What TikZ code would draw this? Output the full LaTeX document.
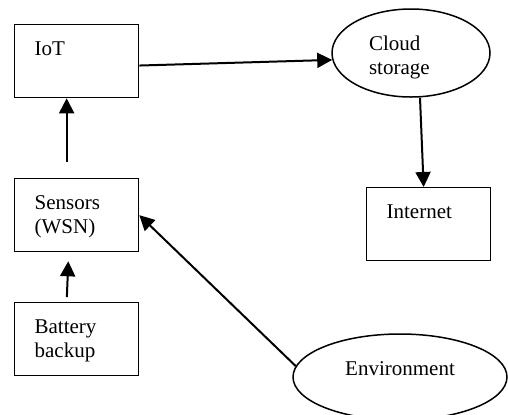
\documentclass[tikz,border=0pt]{standalone}
\usepackage{fontspec}
\setmainfont{Liberation Serif}
\usetikzlibrary{arrows.meta,shapes.geometric}

\begin{document}
\begin{tikzpicture}[x=0.5pt,y=-0.5pt,
  every node/.style={font=\fontsize{10.5}{12}\selectfont},
  blk/.style={draw=black,line width=0.65pt,anchor=north west,inner xsep=10pt,inner ysep=0pt,
    text width=42pt,align=left,text height=15.5pt,text depth=21pt},
  oval/.style={draw=black,ellipse,line width=0.75pt,inner sep=0pt},
  arr/.style={-{Triangle[length=7.5pt,width=7.5pt]},line width=1pt}]
\clip (0,0) rectangle (508,414);
% boxes
\node[blk] (iot) at (14,24) {IoT};
\node[blk] (sens) at (14,178) {Sensors\\(WSN)};
\node[blk] (batt) at (14,302) {Battery\\backup};
\node[blk] (net) at (366,187) {Internet};
% ovals
\node[oval,minimum width=79pt,minimum height=44pt,text width=42pt,align=left,
  text height=7pt,text depth=10pt] (cloud) at (411,53) {Cloud\\storage};
\node[oval,minimum width=107pt,minimum height=43pt,text height=7pt,text depth=9pt] (env) at (400,377) {Environment};
% arrows
\draw[arr] (iot.-4) -- (cloud.185);
\draw[arr,shorten <=8pt] ([xshift=-5pt]sens.north) -- ([xshift=-5pt]iot.south);
\draw[arr,shorten <=2.5pt,shorten >=4.5pt] ([xshift=-5pt]batt.north) -- ([xshift=-4pt]sens.south);
\draw[arr] (env.174) -- (sens.east);
\draw[arr] ([xshift=4.5pt]cloud.south) -- ([xshift=-2.5pt]net.north);
\end{tikzpicture}
\end{document}
